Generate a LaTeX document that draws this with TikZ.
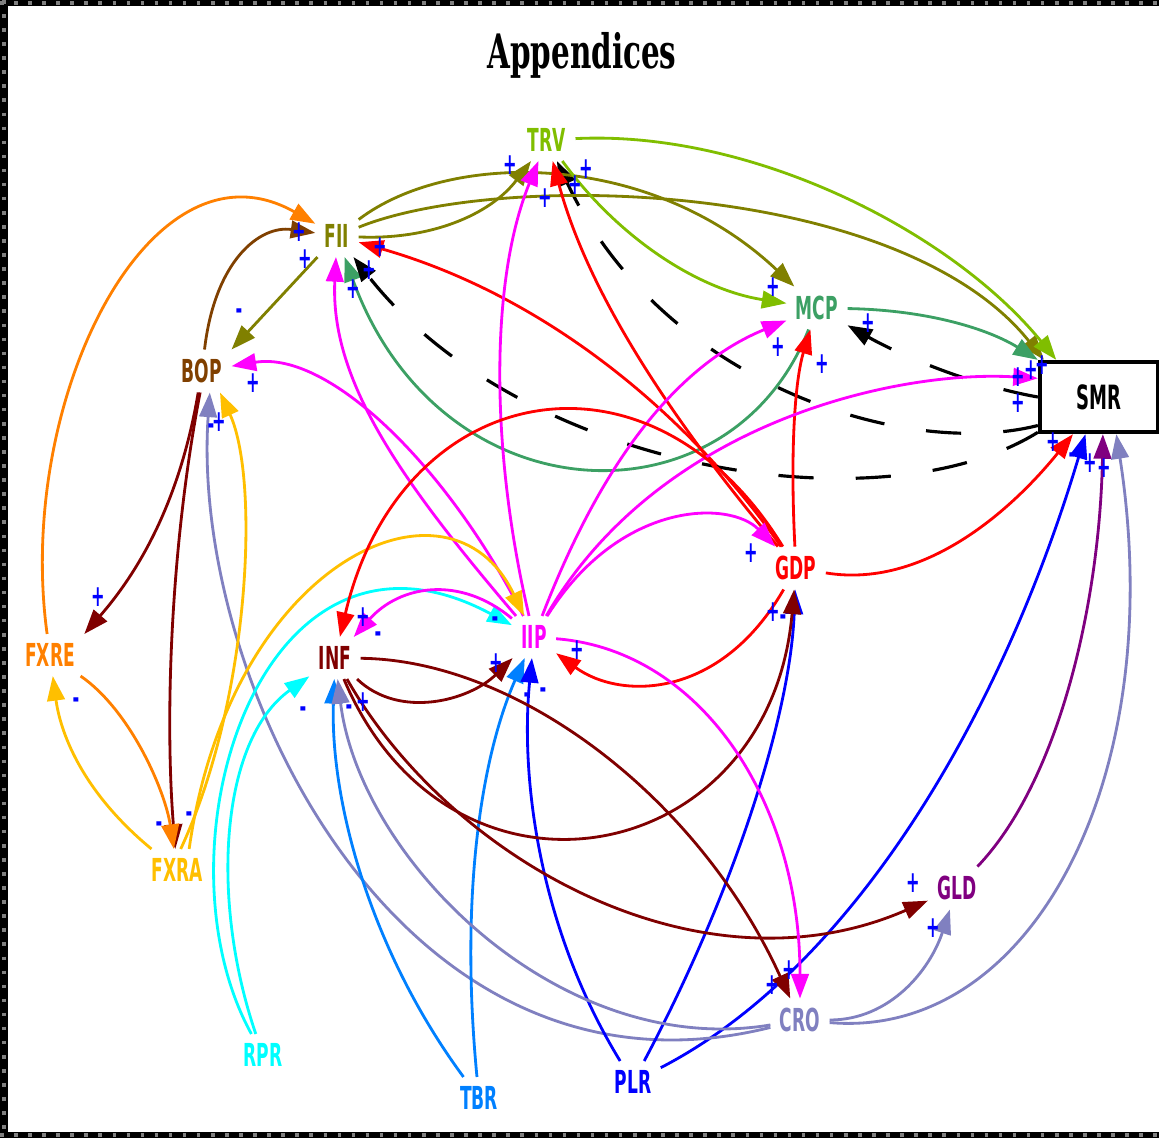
\documentclass[tikz,border=0pt]{standalone}
\usepackage{fontspec}
\usetikzlibrary{arrows.meta}
\newfontfamily\lblfont{DejaVu Sans}[FakeStretch=0.54]
\newfontfamily\ttlfont{DejaVu Serif}[FakeStretch=0.62]
\definecolor{cTRV}{RGB}{128,190,0}
\definecolor{cFII}{RGB}{128,128,0}
\definecolor{cMCP}{RGB}{60,160,100}
\definecolor{cBOP}{RGB}{128,64,0}
\definecolor{cGDP}{RGB}{255,0,0}
\definecolor{cFXRE}{RGB}{255,128,0}
\definecolor{cINF}{RGB}{128,0,0}
\definecolor{cIIP}{RGB}{255,0,255}
\definecolor{cFXRA}{RGB}{255,191,0}
\definecolor{cGLD}{RGB}{128,0,128}
\definecolor{cCRO}{RGB}{128,128,192}
\definecolor{cRPR}{RGB}{0,255,255}
\definecolor{cTBR}{RGB}{0,128,255}
\definecolor{cPLR}{RGB}{0,0,255}
\begin{document}
\begin{tikzpicture}[x=0.01cm,y=-0.01cm,
    var/.style={font=\lblfont\bfseries\fontsize{9}{10}\selectfont, inner sep=2.5pt},
    lnk/.style={line width=0.8pt, -{Triangle[length=7pt,width=5pt]}},
    dlnk/.style={lnk, black, line width=0.9pt, dash pattern=on 10pt off 12pt},
    sgn/.style={text=blue, font=\lblfont\bfseries\fontsize{8.5}{8.5}\selectfont, inner sep=0pt}]
  \useasboundingbox (0,0) rectangle (1159,1138);
  \fill[black] (0,0) rectangle (1159,1138);
  \fill[white] (8,6) rectangle (1159,1132);
  \draw[gray, line width=1pt, dash pattern=on 1pt off 3pt] (0,3) -- (1159,3);
  \draw[gray, line width=1pt, dash pattern=on 1pt off 3pt] (4,0) -- (4,1138);
  \draw[gray, line width=1pt, dash pattern=on 1pt off 3pt] (0,1135) -- (1159,1135);

  \node[font=\ttlfont\bfseries\fontsize{13.5}{15}\selectfont] (title) at (582,55) {Appendices};

  \node[var, text=cTRV] (TRV) at (547,140) {TRV};
  \node[var, text=cFII] (FII) at (337,236) {FII};
  \node[var, text=cMCP] (MCP) at (817,308) {MCP};
  \node[draw, fill=white, line width=1.2pt, minimum width=1.18cm, minimum height=0.7cm,
        font=\lblfont\bfseries\fontsize{9.5}{10}\selectfont] (SMR) at (1099,397) {SMR};
  \node[var, text=cBOP] (BOP) at (202,371) {BOP};
  \node[var, text=cGDP] (GDP) at (796,568) {GDP};
  \node[var, text=cFXRE] (FXRE) at (50,655) {FXRE};
  \node[var, text=cINF] (INF) at (335,658) {INF};
  \node[var, text=cIIP] (IIP) at (534,637) {IIP};
  \node[var, text=cFXRA] (FXRA) at (177,870) {FXRA};
  \node[var, text=cGLD] (GLD) at (957,888) {GLD};
  \node[var, text=cCRO] (CRO) at (800,1020) {CRO};
  \node[var, text=cRPR] (RPR) at (263,1055) {RPR};
  \node[var, text=cTBR] (TBR) at (479,1098) {TBR};
  \node[var, text=cPLR] (PLR) at (633,1082) {PLR};

  \draw[lnk,cFXRE] (FXRE) .. controls (15,400) and (150,130) .. (FII);
  \draw[lnk,cBOP] (BOP) .. controls (215,260) and (260,225) .. (FII);
  \draw[lnk,cFII] (FII) -- (BOP.north east);
  \draw[lnk,cIIP] (IIP) .. controls (400,480) and (330,380) .. (FII);
  \draw[lnk,cMCP] (MCP) .. controls (730,530) and (440,520) .. (FII);
  \draw[lnk,cGDP] (GDP) .. controls (700,430) and (560,300) .. (FII);
  \draw[dlnk] (SMR.210) .. controls (880,530) and (520,470) .. (FII);
  \draw[dlnk] (SMR.205) .. controls (900,460) and (660,380) .. (TRV);
  \draw[dlnk] (SMR.west) .. controls (970,385) and (900,355) .. (MCP);

  \draw[lnk,cFII] (FII) .. controls (430,240) and (490,215) .. (TRV);
  \draw[lnk,cFII] (FII) .. controls (450,150) and (650,150) .. (MCP);
  \draw[lnk,cFII] (FII) .. controls (500,170) and (900,180) .. (SMR.146);
  \draw[lnk,cIIP] (IIP) .. controls (490,450) and (490,280) .. (TRV);
  \draw[lnk,cGDP] (GDP) .. controls (680,430) and (590,300) .. (TRV);
  \draw[lnk,cTRV] (TRV) .. controls (620,240) and (700,290) .. (MCP);
  \draw[lnk,cTRV] (TRV) .. controls (750,130) and (950,230) .. (SMR.139);

  \draw[lnk,cIIP] (IIP) .. controls (610,440) and (690,360) .. (MCP);
  \draw[lnk,cGDP] (GDP) .. controls (790,450) and (795,380) .. (MCP);
  \draw[lnk,cMCP] (MCP) .. controls (930,310) and (990,330) .. (SMR.north west);
  \draw[lnk,cIIP] (IIP) .. controls (660,420) and (900,370) .. (SMR.163);
  \draw[lnk,cGDP] (GDP) .. controls (930,590) and (1020,500) .. (SMR.235);
  \draw[lnk,cPLR] (PLR) .. controls (850,970) and (1000,720) .. (SMR.250);
  \draw[lnk,cGLD] (GLD) .. controls (1060,780) and (1100,600) .. (SMR.276);
  \draw[lnk,cCRO] (CRO) .. controls (1030,1040) and (1170,780) .. (SMR.295);

  \draw[lnk,cIIP] (IIP) .. controls (450,470) and (330,350) .. (BOP);
  \draw[lnk,cCRO] (CRO) .. controls (400,1120) and (190,680) .. (BOP.-70);
  \draw[lnk,cFXRA] (FXRA.80) .. controls (250,700) and (260,480) .. (BOP.-50);
  \draw[lnk,cINF] (BOP.-100) .. controls (180,500) and (140,570) .. (FXRE.north east);
  \draw[lnk,cINF] (BOP.-95) .. controls (170,550) and (165,720) .. (FXRA);
  \draw[lnk,cFXRE] (FXRE) .. controls (130,710) and (165,790) .. (FXRA);
  \draw[lnk,cFXRA] (FXRA) .. controls (80,790) and (60,730) .. (FXRE);
  \draw[lnk,cFXRA] (FXRA.60) .. controls (230,560) and (450,460) .. (IIP);

  \draw[lnk,cRPR] (RPR) .. controls (210,900) and (220,740) .. (INF);
  \draw[lnk,cRPR] (RPR) .. controls (150,850) and (260,490) .. (IIP);
  \draw[lnk,cTBR] (TBR) .. controls (370,950) and (330,800) .. (INF);
  \draw[lnk,cTBR] (TBR) .. controls (460,900) and (480,760) .. (IIP);
  \draw[lnk,cPLR] (PLR) .. controls (540,930) and (520,780) .. (IIP);
  \draw[lnk,cPLR] (PLR) .. controls (730,900) and (790,720) .. (GDP);
  \draw[lnk,cCRO] (CRO) .. controls (560,1060) and (360,860) .. (INF);
  \draw[lnk,cCRO] (CRO) .. controls (890,1020) and (930,970) .. (GLD);

  \draw[lnk,cINF] (INF) .. controls (450,860) and (700,1000) .. (GLD);
  \draw[lnk,cINF] (INF) .. controls (450,930) and (770,870) .. (GDP);
  \draw[lnk,cINF] (INF) .. controls (520,660) and (700,800) .. (CRO);
  \draw[lnk,cINF] (INF) .. controls (400,720) and (470,700) .. (IIP);
  \draw[lnk,cGDP] (GDP) .. controls (650,330) and (400,380) .. (INF);
  \draw[lnk,cGDP] (GDP) .. controls (720,700) and (620,700) .. (IIP);
  \draw[lnk,cIIP] (IIP) .. controls (620,500) and (730,500) .. (GDP);
  \draw[lnk,cIIP] (IIP) .. controls (460,575) and (400,585) .. (INF);
  \draw[lnk,cIIP] (IIP) .. controls (700,650) and (800,800) .. (CRO);

  \foreach \x/\y [count=\i] in {510/165,545/198,575/185,586/169,773/287,778/347,822/364,868/323,
      1018/377,1031/370,1042/365,1018/403,1053/442,1090/463,1104/468,299/232,305/259,380/247,
      369/270,353/289,253/383,219/422,98/597,363/617,363/702,496/663,577/650,751/553,773/612,
      913/883,933/928,772/985,789/970}
    \node[sgn] (plus\i) at (\x,\y) {+};
  \foreach \x/\y [count=\i] in {239/314,211/429,76/703,159/827,189/817,378/637,303/712,349/710,
      495/622,527/698,543/693,783/620,1072/458}
    \node[sgn] (minus\i) at (\x,\y) {-};
\end{tikzpicture}
\end{document}
